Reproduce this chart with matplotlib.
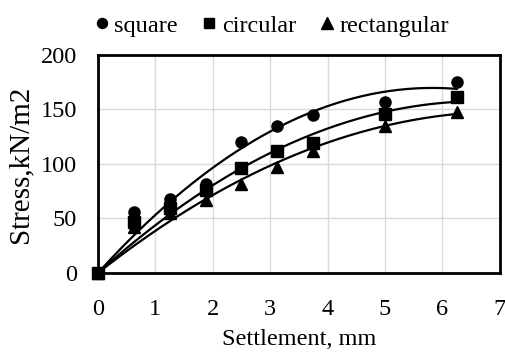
import matplotlib
matplotlib.use("Agg")
import matplotlib.pyplot as plt
import numpy as np

plt.rcParams["font.family"] = ["Liberation Serif", "DejaVu Serif"]

settlement = [0, 0.625, 1.25, 1.875, 2.5, 3.125, 3.75, 5.0, 6.25]
square = [0, 56, 68, 82, 120, 135, 145, 157, 175]
circular = [0, 47, 60, 76, 96, 112, 119, 146, 161]
rectangular = [0, 42, 55, 67, 82, 97, 112, 135, 148]

series = [
    ("square", square, "o", 8),
    ("circular", circular, "s", 8),
    ("rectangular", rectangular, "^", 9),
]

fig = plt.figure(figsize=(5.06, 3.54), dpi=100)
ax = fig.add_axes([0.1937, 0.229, 0.794, 0.616])

x = np.array(settlement, dtype=float)
xs = np.linspace(0, x.max(), 200)
for name, vals, mk, ms in series:
    ax.plot(settlement, vals, linestyle="none", marker=mk, color="black",
            markersize=ms, label=name, zorder=3, clip_on=False)
    # 2nd order trendline forced through the origin (Excel style)
    A = np.column_stack([x, x ** 2])
    (a, b), *_ = np.linalg.lstsq(A, np.array(vals, dtype=float), rcond=None)
    ax.plot(xs, a * xs + b * xs ** 2, color="black", linewidth=1.6, zorder=2)

ax.set_xlim(0, 7)
ax.set_ylim(0, 200)
ax.set_xticks(range(0, 8))
ax.set_yticks(range(0, 201, 50))
ax.grid(color="#d9d9d9", linewidth=1)
ax.set_axisbelow(True)
for s in ax.spines.values():
    s.set_linewidth(2)
ax.tick_params(length=0, labelsize=17.5)
ax.tick_params(axis="x", pad=19)
ax.tick_params(axis="y", pad=15)
ax.set_xlabel("Settlement, mm", fontsize=17.5, labelpad=6)
ax.set_ylabel("Stress,kN/m2", fontsize=21, labelpad=5)

fig.legend(loc="upper center", bbox_to_anchor=(0.535, 1.02), ncol=3, frameon=False,
           fontsize=17.5, handletextpad=0.1, columnspacing=0.9, handlelength=0.8,
           markerscale=0.9)

fig.savefig("out.png", dpi=100)
